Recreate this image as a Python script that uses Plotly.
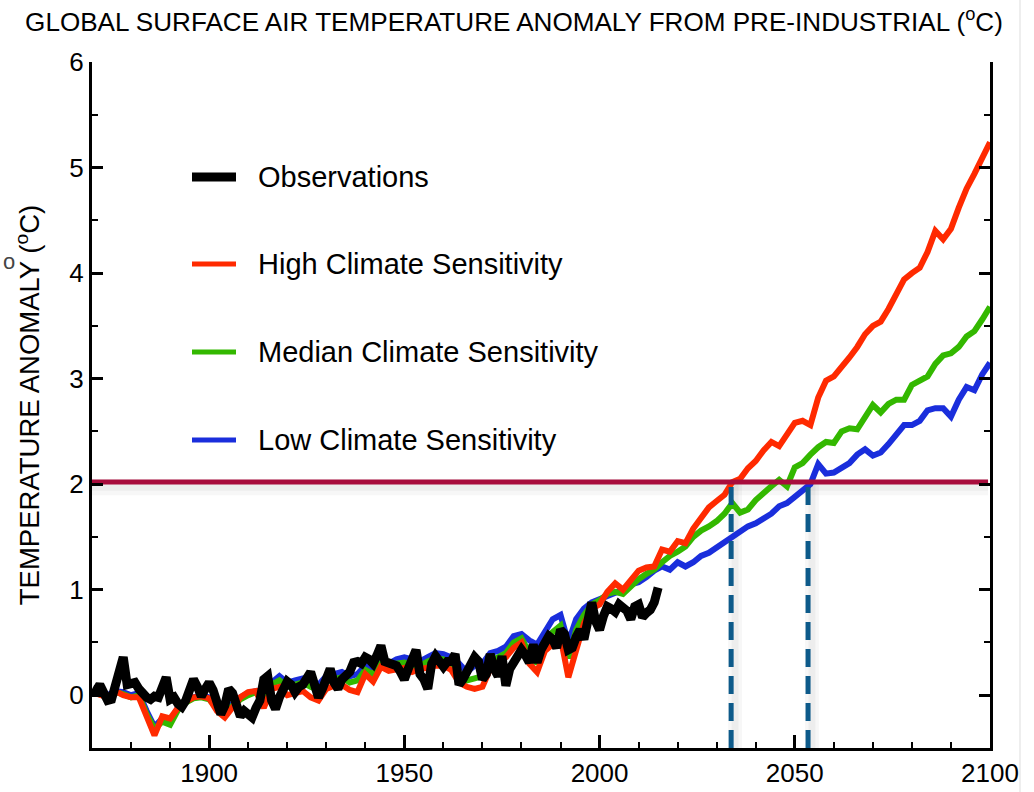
import plotly.graph_objects as go

# ---------------- data ----------------
obs_years = list(range(1870, 2016))
obs_values = [
    0.06, 0.04, 0.10, 0.03, -0.05, -0.04, 0.10, 0.30, 0.36, 0.10,   # 1870-1879
    0.12, 0.12, 0.06, 0.00, -0.02, -0.04, -0.01, -0.02, 0.10, 0.17,  # 1880-1889
    -0.04, -0.02, -0.08, -0.11, -0.05, 0.08, 0.15, 0.08, -0.01, 0.06,  # 1890-1899
    0.12, 0.05, -0.08, -0.18, -0.10, 0.06, 0.02, -0.12, -0.20, -0.15,  # 1900-1909
    -0.18, -0.21, -0.12, -0.05, 0.15, 0.18, -0.05, -0.13, -0.02, 0.06,  # 1910-1919
    0.13, 0.10, 0.03, 0.08, 0.10, 0.16, 0.22, 0.10, -0.02, 0.06,  # 1920-1929
    0.15, 0.25, 0.12, 0.06, 0.15, 0.18, 0.22, 0.31, 0.32, 0.30,  # 1930-1939
    0.36, 0.34, 0.30, 0.38, 0.47, 0.32, 0.30, 0.30, 0.28, 0.22,  # 1940-1949
    0.15, 0.25, 0.35, 0.43, 0.20, 0.15, 0.06, 0.30, 0.37, 0.33,  # 1950-1959
    0.27, 0.32, 0.32, 0.39, 0.10, 0.15, 0.23, 0.30, 0.36, 0.32,  # 1960-1969
    0.15, 0.20, 0.39, 0.25, 0.18, 0.37, 0.09, 0.25, 0.31, 0.36,  # 1970-1979
    0.43, 0.38, 0.31, 0.48, 0.31, 0.43, 0.50, 0.56, 0.53, 0.45,  # 1980-1989
    0.62, 0.58, 0.43, 0.45, 0.55, 0.62, 0.53, 0.70, 0.88, 0.70,  # 1990-1999
    0.62, 0.75, 0.84, 0.82, 0.79, 0.86, 0.84, 0.80, 0.72, 0.84,  # 2000-2009
    0.86, 0.74, 0.78, 0.81, 0.88, 1.02,  # 2010-2015
]

model_years = list(range(1870, 2101, 2))
low_sens = [
    0.03, 0.02, 0.00, 0.04, 0.03, 0.00, 0.02, -0.15, -0.30, -0.22,   # 1870-1888
    -0.24, -0.12, -0.05, -0.02, 0.00, -0.02, -0.10, -0.16, -0.08, -0.02,  # 1890-1908
    0.02, 0.04, -0.04, 0.12, 0.18, 0.12, 0.14, 0.16, 0.12, 0.10,  # 1910-1928
    0.18, 0.20, 0.22, 0.18, 0.20, 0.28, 0.26, 0.33, 0.30, 0.34,  # 1930-1948
    0.36, 0.34, 0.32, 0.36, 0.40, 0.39, 0.36, 0.30, 0.22, 0.28,  # 1950-1968
    0.30, 0.40, 0.42, 0.46, 0.56, 0.58, 0.52, 0.48, 0.60, 0.72,  # 1970-1988
    0.76, 0.50, 0.72, 0.82, 0.88, 0.91, 0.95, 0.98, 1.00, 1.05,  # 1990-2008
    1.07, 1.12, 1.18, 1.22, 1.19, 1.26, 1.22, 1.26, 1.32, 1.35,  # 2010-2028
    1.40, 1.44, 1.50, 1.55, 1.60, 1.63, 1.67, 1.72, 1.79, 1.82,  # 2030-2048
    1.88, 1.94, 2.00, 2.19, 2.10, 2.11, 2.16, 2.20, 2.28, 2.33,  # 2050-2068
    2.27, 2.30, 2.38, 2.46, 2.56, 2.56, 2.60, 2.70, 2.72, 2.72,  # 2070-2088
    2.64, 2.80, 2.92, 2.89, 3.04, 3.15,  # 2090-2100
]
median_sens = [
    0.02, 0.01, -0.02, 0.03, 0.01, -0.02, 0.00, -0.18, -0.32, -0.25,
    -0.28, -0.14, -0.07, -0.03, -0.02, -0.04, -0.12, -0.18, -0.10, -0.04,
    0.00, 0.03, -0.08, 0.10, 0.14, 0.08, 0.10, 0.12, 0.08, 0.05,
    0.13, 0.15, 0.17, 0.12, 0.14, 0.24, 0.20, 0.30, 0.26, 0.30,
    0.31, 0.28, 0.28, 0.32, 0.35, 0.34, 0.30, 0.20, 0.14, 0.16,
    0.18, 0.32, 0.36, 0.40, 0.50, 0.54, 0.40, 0.30, 0.48, 0.60,
    0.66, 0.35, 0.62, 0.76, 0.86, 0.90, 0.96, 0.98, 0.96, 1.04,
    1.10, 1.15, 1.19, 1.26, 1.32, 1.36, 1.41, 1.50, 1.56, 1.60,
    1.65, 1.72, 1.82, 1.73, 1.76, 1.85, 1.92, 1.98, 2.04, 1.98,
    2.16, 2.20, 2.28, 2.35, 2.40, 2.39, 2.50, 2.53, 2.52, 2.64,
    2.75, 2.68, 2.76, 2.80, 2.80, 2.94, 2.98, 3.02, 3.14, 3.22,
    3.24, 3.30, 3.40, 3.45, 3.56, 3.68,
]
high_sens = [
    0.03, 0.00, -0.02, 0.04, 0.00, -0.02, -0.02, -0.20, -0.38, -0.20,
    -0.22, -0.12, -0.06, -0.02, -0.01, -0.03, -0.15, -0.21, -0.11, -0.02,
    0.03, 0.04, -0.12, 0.06, 0.08, 0.00, 0.02, 0.04, -0.02, -0.05,
    0.06, 0.09, 0.10, 0.05, 0.03, 0.20, 0.13, 0.27, 0.23, 0.24,
    0.26, 0.22, 0.25, 0.26, 0.28, 0.28, 0.24, 0.12, 0.08, 0.06,
    0.08, 0.25, 0.30, 0.36, 0.45, 0.50, 0.30, 0.22, 0.42, 0.48,
    0.55, 0.17, 0.45, 0.68, 0.82, 0.86, 0.98, 1.06, 1.00, 1.08,
    1.18, 1.21, 1.22, 1.38, 1.36, 1.46, 1.44, 1.58, 1.68, 1.78,
    1.84, 1.90, 2.02, 2.05, 2.15, 2.22, 2.32, 2.40, 2.36, 2.48,
    2.58, 2.60, 2.56, 2.82, 2.98, 3.02, 3.10, 3.20, 3.30, 3.42,
    3.50, 3.54, 3.66, 3.80, 3.94, 4.00, 4.05, 4.20, 4.40, 4.32,
    4.42, 4.62, 4.80, 4.94, 5.08, 5.24,
]

threshold = 2.02
crossing_years = [2033.7, 2053.4]   # high / low sensitivity reach 2 degC

series_names = ["Observations", "High Climate Sensitivity",
                "Median Climate Sensitivity", "Low Climate Sensitivity"]

# ---------------- styles ----------------
C_OBS = "#000000"
C_HIGH = "#ff2a00"
C_MED = "#33b800"
C_LOW = "#1a2edc"
C_THR = "#a80c3c"
C_DASH = "#0d5a8a"
FONT = "Liberation Sans, Arial, sans-serif"

X0, X1 = 1870, 2100
Y0, Y1 = -0.5, 6

fig = go.Figure()

# soft shadows of reference lines
for off, wid, alpha in [(0.05, 16, 0.03), (0.04, 9, 0.04)]:
    fig.add_trace(go.Scatter(x=[X0, 2099.5], y=[threshold - off, threshold - off], mode="lines",
                             line=dict(color=f"rgba(0,0,0,{alpha})", width=wid),
                             hoverinfo="skip", showlegend=False))
    for cy in crossing_years:
        fig.add_trace(go.Scatter(x=[cy + 1.0, cy + 1.0], y=[Y0, threshold], mode="lines",
                                 line=dict(color=f"rgba(0,0,0,{alpha})", width=wid - 2),
                                 hoverinfo="skip", showlegend=False))

fig.add_trace(go.Scatter(x=model_years, y=low_sens, mode="lines", name=series_names[3],
                         line=dict(color=C_LOW, width=6), showlegend=False))
fig.add_trace(go.Scatter(x=model_years, y=median_sens, mode="lines", name=series_names[2],
                         line=dict(color=C_MED, width=6), showlegend=False))
fig.add_trace(go.Scatter(x=model_years, y=high_sens, mode="lines", name=series_names[1],
                         line=dict(color=C_HIGH, width=6), showlegend=False))
fig.add_trace(go.Scatter(x=obs_years, y=obs_values, mode="lines", name=series_names[0],
                         line=dict(color=C_OBS, width=9), showlegend=False))

# 2 degC line
fig.add_trace(go.Scatter(x=[X0, 2099.5], y=[threshold, threshold], mode="lines",
                         line=dict(color=C_THR, width=5), hoverinfo="skip", showlegend=False))
# dashed crossing markers
for cy in crossing_years:
    fig.add_trace(go.Scatter(x=[cy, cy], y=[Y0, threshold], mode="lines",
                             line=dict(color=C_DASH, width=5, dash="18px,9px"),
                             hoverinfo="skip", showlegend=False))

# ---------------- custom legend ----------------
L, T, W, H = 92, 62, 898, 686
def px2paper(px, py):
    return (px - L) / W, (T + H - py) / H

legend_items = [
    (series_names[0], C_OBS, 9, 177),
    (series_names[1], C_HIGH, 5, 264),
    (series_names[2], C_MED, 5, 352),
    (series_names[3], C_LOW, 5, 440),
]
shapes = []
annotations = []
for name, col, w, py in legend_items:
    xa, ya = px2paper(192, py)
    xb, _ = px2paper(236, py)
    shapes.append(dict(type="line", xref="paper", yref="paper", x0=xa, x1=xb, y0=ya, y1=ya,
                       line=dict(color=col, width=w)))
    xt, yt = px2paper(256, py)
    annotations.append(dict(text=name, xref="paper", yref="paper", x=xt, y=yt,
                            xanchor="left", yanchor="middle", showarrow=False,
                            font=dict(family=FONT, size=29, color="#000")))

# page border line at the right and stray glyph at left edge
bx, _ = px2paper(1020, 0)
shapes.append(dict(type="line", xref="paper", yref="paper", x0=bx, x1=bx, y0=-0.1, y1=1.1,
                   line=dict(color="#dddddd", width=1)))
ox, oy = px2paper(9, 261)
annotations.append(dict(text="o", xref="paper", yref="paper", x=ox, y=oy, showarrow=False,
                        xanchor="center", yanchor="middle",
                        font=dict(family=FONT, size=22, color="#444")))

fig.update_layout(
    width=1034, height=792,
    margin=dict(l=92, r=44, t=62, b=44, autoexpand=False),
    paper_bgcolor="white", plot_bgcolor="white",
    font=dict(family=FONT, color="#000"),
    title=dict(text="GLOBAL SURFACE AIR TEMPERATURE ANOMALY FROM PRE-INDUSTRIAL (<sup>o</sup>C)",
               x=514 / 1034, xref="container", y=1 - 22 / 792, yref="container",
               xanchor="center", yanchor="middle",
               font=dict(family=FONT, size=26.1, color="#000")),
    shapes=shapes,
    annotations=annotations,
    showlegend=False,
)
fig.update_xaxes(range=[X0, X1], showgrid=False, zeroline=False, automargin=False,
                 showline=True, linecolor="#000", linewidth=3, mirror=False,
                 ticks="inside", ticklen=13, tickwidth=3, tickcolor="#000",
                 tick0=1900, dtick=50,
                 minor=dict(dtick=10, tick0=1870, ticks="inside", ticklen=6, tickwidth=2,
                            tickcolor="#000", showgrid=False),
                 tickfont=dict(family=FONT, size=26, color="#000"))
fig.update_yaxes(range=[Y0, Y1], showgrid=False, zeroline=False, automargin=False,
                 showline=True, linecolor="#000", linewidth=3, mirror="ticks",
                 ticks="inside", ticklen=11, tickwidth=3, tickcolor="#000",
                 tick0=0, dtick=1,
                 minor=dict(dtick=0.5, tick0=0, ticks="inside", ticklen=6, tickwidth=2,
                            tickcolor="#000", showgrid=False),
                 tickfont=dict(family=FONT, size=26, color="#000"),
                 title=dict(text="TEMPERATURE ANOMALY (<sup>o</sup>C)", standoff=22,
                            font=dict(family=FONT, size=27.5, color="#000")))

fig.write_html("out.html")
